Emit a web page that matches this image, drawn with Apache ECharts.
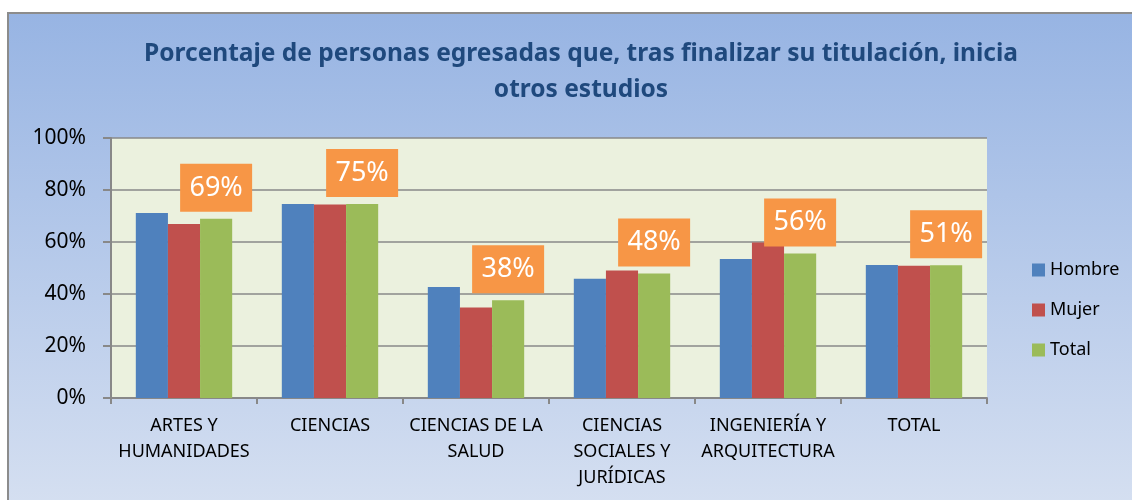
<!DOCTYPE html>
<html>
<head>
<meta charset="utf-8">
<script src="https://cdn.jsdelivr.net/npm/echarts@6/dist/echarts.min.js"></script>
<style>
  html, body { margin: 0; padding: 0; background: #fff; }
  #main { width: 1132px; height: 500px; }
</style>
</head>
<body>
<div id="main"></div>
<script>
var categories = ['ARTES Y\nHUMANIDADES', 'CIENCIAS', 'CIENCIAS DE LA\nSALUD', 'CIENCIAS\nSOCIALES Y\nJURÍDICAS', 'INGENIERÍA Y\nARQUITECTURA', 'TOTAL'];
var hombre = [71.2, 74.6, 42.7, 45.9, 53.5, 51.2];
var mujer = [66.9, 74.4, 34.8, 49.0, 59.8, 50.9];
var total = [68.9, 74.6, 37.6, 47.9, 55.6, 51.1];
var yTicks = [0, 20, 40, 60, 80, 100];

var font = 'Noto Sans';
var chart = echarts.init(document.getElementById('main'));

var option = {
    animation: false,
    textStyle: { fontFamily: font },
    graphic: [{
        type: 'rect',
        z: -10,
        shape: { x: 8, y: 13, width: 1140, height: 500 },
        style: {
            fill: new echarts.graphic.LinearGradient(0, 0, 0, 1, [
                { offset: 0, color: '#97b4e3' },
                { offset: 1, color: '#d6e0f1' }
            ]),
            stroke: '#8c8c8c',
            lineWidth: 2
        }
    }],
    title: {
        text: 'Porcentaje de personas egresadas que, tras finalizar su titulación, inicia\notros estudios',
        left: 576,
        textAlign: 'center',
        top: 31,
        textStyle: {
            fontFamily: font,
            fontSize: 24.5,
            fontWeight: 'bold',
            color: '#1f497d',
            lineHeight: 36
        }
    },
    legend: {
        orient: 'vertical',
        left: 1027,
        top: 256,
        itemWidth: 13,
        itemHeight: 13,
        itemGap: 22,
        icon: 'rect',
        textStyle: { fontSize: 18, color: '#000', fontFamily: font }
    },
    grid: {
        left: 111,
        right: 145,
        top: 138,
        bottom: 102,
        show: true,
        backgroundColor: '#ebf1de',
        borderWidth: 0
    },
    xAxis: {
        type: 'category',
        data: categories,
        axisLine: { lineStyle: { color: '#888', width: 2 } },
        axisTick: { show: true, interval: 0, length: 6, lineStyle: { color: '#888', width: 2 } },
        axisLabel: {
            interval: 0,
            fontSize: 18,
            lineHeight: 26,
            color: '#000',
            margin: 15,
            fontFamily: font
        }
    },
    yAxis: {
        type: 'value',
        min: yTicks[0],
        max: yTicks[yTicks.length - 1],
        interval: 20,
        axisLine: { show: true, lineStyle: { color: '#888', width: 2 } },
        axisTick: { show: true, length: 8, lineStyle: { color: '#888', width: 2 } },
        axisLabel: {
            formatter: '{value}%',
            fontSize: 21,
            color: '#000',
            margin: 25,
            fontFamily: font
        },
        splitLine: { lineStyle: { color: '#888', width: 1.5 } }
    },
    series: [{
        name: 'Hombre',
        type: 'bar',
        data: hombre,
        barGap: '0%',
        barCategoryGap: '34%',
        itemStyle: { color: '#4f81bd' }
    }, {
        name: 'Mujer',
        type: 'bar',
        data: mujer,
        itemStyle: { color: '#c0504d' }
    }, {
        name: 'Total',
        type: 'bar',
        data: total,
        itemStyle: { color: '#9bbb59' },
        label: {
            show: true,
            position: 'top',
            distance: 7,
            formatter: function (p) { return Math.round(p.value) + '%'; },
            backgroundColor: '#f79646',
            color: '#fff',
            fontSize: 27,
            fontFamily: font,
            width: 72,
            height: 48,
            lineHeight: 48,
            align: 'center'
        }
    }]
};
chart.setOption(option);
</script>
</body>
</html>
